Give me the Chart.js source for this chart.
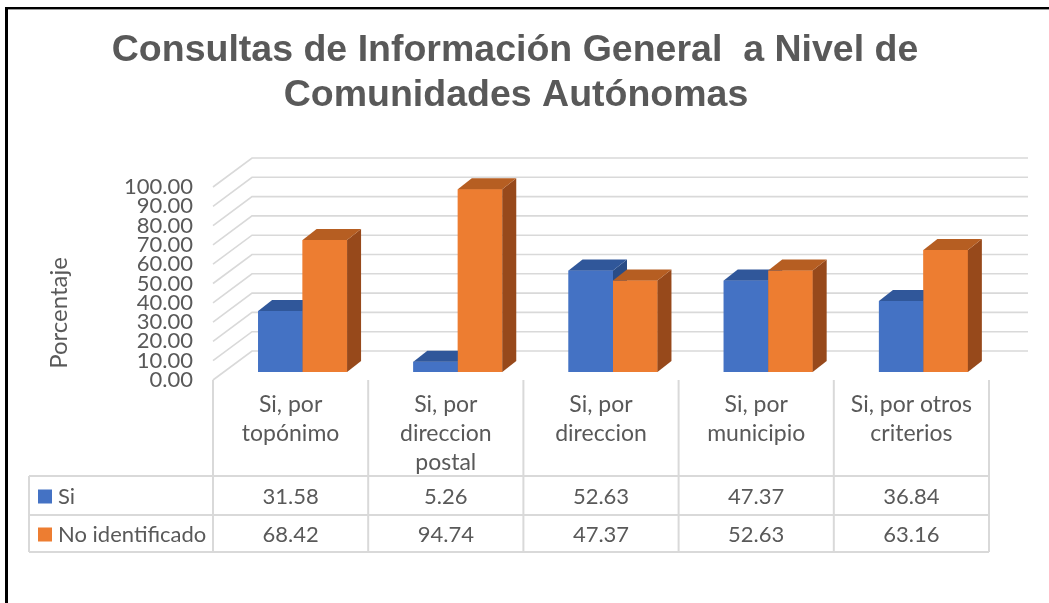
<!DOCTYPE html>
<html><head><meta charset="utf-8">
<script src="https://cdn.jsdelivr.net/npm/chart.js@4.4.1/dist/chart.umd.min.js"></script>
<style>html,body{margin:0;padding:0;background:#fff;}#wrap{width:1049px;height:603px;position:relative;}</style>
</head><body><div id="wrap"><canvas id="c"></canvas></div>
<script>
// ---- data ----
const titleLines = ["Consultas de Información General  a Nivel de", "Comunidades Autónomas"];
const yAxisTitle = "Porcentaje";
const categories = [["Si, por", "topónimo"], ["Si, por", "direccion", "postal"], ["Si, por", "direccion"], ["Si, por", "municipio"], ["Si, por otros", "criterios"]];
const seriesNames = ["Si", "No identificado"];
const siValues = [31.58, 5.26, 52.63, 47.37, 36.84];
const noIdValues = [68.42, 94.74, 47.37, 52.63, 63.16];
const yMin = 0, yMax = 100, yStep = 10;

// ---- styles ----
const TEXT = '#595959';
const GRID = '#D9D9D9';
const FRONT = ['#4472C4', '#ED7D31'];
const TOPC = ['#30579A', '#B65E22'];
const SIDEC = ['#2A4C86', '#97491B'];
const BODY_FONT = 'Lato, "Open Sans", sans-serif';
const BAR_SHIFT = {x: 12, y: -8};
const BAR_DEPTH = {x: 14, y: -11};
const WALL = {x: 39, y: -29};

function drawFaces(ctx, el, i) {
  const p = el.getProps(['x', 'y', 'base', 'width'], true);
  const l = p.x - p.width / 2, r = p.x + p.width / 2, t = Math.min(p.y, p.base), b = Math.max(p.y, p.base);
  ctx.fillStyle = SIDEC[i];
  ctx.beginPath();
  ctx.moveTo(r, t); ctx.lineTo(r + BAR_DEPTH.x, t + BAR_DEPTH.y);
  ctx.lineTo(r + BAR_DEPTH.x, b + BAR_DEPTH.y); ctx.lineTo(r, b); ctx.closePath(); ctx.fill();
  ctx.fillStyle = TOPC[i];
  ctx.beginPath();
  ctx.moveTo(l, t); ctx.lineTo(l + BAR_DEPTH.x, t + BAR_DEPTH.y);
  ctx.lineTo(r + BAR_DEPTH.x, t + BAR_DEPTH.y); ctx.lineTo(r, t); ctx.closePath(); ctx.fill();
}

const decor = {
  id: 'decor',
  beforeDraw(chart) {
    const {ctx, width, height} = chart;
    ctx.save(); ctx.fillStyle = '#fff'; ctx.fillRect(0, 0, width, height); ctx.restore();
  },
  beforeDatasetsDraw(chart) {
    const {ctx, chartArea: a, scales: {y}} = chart;
    ctx.save();
    ctx.strokeStyle = GRID; ctx.lineWidth = 1.6;
    y.ticks.forEach(t => {
      const py = y.getPixelForValue(t.value);
      ctx.beginPath();
      ctx.moveTo(a.left, py);
      ctx.lineTo(a.left + WALL.x, py + WALL.y);
      ctx.lineTo(a.right + WALL.x, py + WALL.y);
      ctx.stroke();
    });
    ctx.restore();
    ctx.save();
    ctx.translate(BAR_SHIFT.x, BAR_SHIFT.y);
  },
  afterDatasetsDraw(chart) {
    const ctx = chart.ctx;
    // re-layer in series order so each bar's 3D faces sit correctly
    [0, 1].forEach(i => {
      const meta = chart.getDatasetMeta(i);
      meta.data.forEach(el => { el.draw(ctx); drawFaces(ctx, el, i); });
    });
    ctx.restore();
  },
  afterDraw(chart) {
    const {ctx, chartArea: a, scales: {x}} = chart;
    const n = categories.length;
    const cw = (a.right - a.left) / n;
    const bounds = [];
    for (let k = 0; k <= n; k++) bounds.push(a.left + k * cw);
    const rowTop = 476, rowMid = 515, rowBot = 552, tableLeft = 29;
    ctx.save();
    // title
    ctx.fillStyle = TEXT;
    ctx.textAlign = 'center'; ctx.textBaseline = 'middle';
    ctx.font = 'bold 37.5px "Liberation Sans", Arial, sans-serif';
    ctx.fillText(titleLines[0], 515, 51);
    ctx.fillText(titleLines[1], 516, 96);
    // y axis title
    ctx.save();
    ctx.translate(59, 313); ctx.rotate(-Math.PI / 2);
    ctx.font = '24px ' + BODY_FONT;
    ctx.fillText(yAxisTitle, 0, 0);
    ctx.restore();
    // table lines
    ctx.strokeStyle = GRID; ctx.lineWidth = 2;
    bounds.forEach(bx => { ctx.beginPath(); ctx.moveTo(bx, a.bottom); ctx.lineTo(bx, rowBot); ctx.stroke(); });
    [rowTop, rowMid, rowBot].forEach(ry => { ctx.beginPath(); ctx.moveTo(tableLeft, ry); ctx.lineTo(a.right, ry); ctx.stroke(); });
    ctx.beginPath(); ctx.moveTo(tableLeft, rowTop); ctx.lineTo(tableLeft, rowBot); ctx.stroke();
    // header labels
    ctx.font = '23px ' + BODY_FONT;
    ctx.fillStyle = TEXT;
    categories.forEach((lab, k) => {
      const cx = x.getPixelForValue(k);
      lab.forEach((ln, j) => ctx.fillText(ln, cx, 405 + j * 29));
    });
    // rows
    ctx.font = '22px ' + BODY_FONT;
    const rows = [siValues, noIdValues];
    const rowCenters = [(rowTop + rowMid) / 2 + 1, (rowMid + rowBot) / 2 + 1];
    rows.forEach((vals, r) => {
      const cy = rowCenters[r];
      ctx.fillStyle = FRONT[r];
      ctx.fillRect(38, cy - 7, 14, 14);
      ctx.fillStyle = TEXT;
      ctx.textAlign = 'left';
      ctx.fillText(seriesNames[r], 58, cy);
      ctx.textAlign = 'center';
      vals.forEach((v, k) => ctx.fillText(v.toFixed(2), x.getPixelForValue(k), cy));
    });
    // frame
    ctx.fillStyle = '#000';
    ctx.fillRect(5, 7, 3, 596);
    ctx.fillRect(5, 7, 1044, 2);
    ctx.fillStyle = '#9a9a9a';
    ctx.fillRect(8, 9, 1041, 1);
    ctx.restore();
  }
};

new Chart(document.getElementById('c'), {
  type: 'bar',
  data: {
    labels: categories,
    datasets: [
      {label: seriesNames[0], data: siValues, backgroundColor: FRONT[0], borderWidth: 0, clip: false},
      {label: seriesNames[1], data: noIdValues, backgroundColor: FRONT[1], borderWidth: 0, clip: false}
    ]
  },
  options: {
    responsive: true, maintainAspectRatio: false, animation: false,
    layout: {padding: {top: 187, bottom: 223, right: 60, left: 0}},
    datasets: {bar: {categoryPercentage: 0.573, barPercentage: 1}},
    plugins: {legend: {display: false}, title: {display: false}, tooltip: {enabled: false}},
    scales: {
      x: {display: false},
      y: {
        min: yMin, max: yMax,
        grid: {display: false, drawTicks: false},
        border: {display: false},
        ticks: {stepSize: yStep, autoSkip: false, padding: 20, color: TEXT, font: {family: BODY_FONT, size: 22, lineHeight: 1}, callback: v => Number(v).toFixed(2)},
        afterFit(s) { s.width = 213; }
      }
    }
  },
  plugins: [decor]
});
</script></body></html>
